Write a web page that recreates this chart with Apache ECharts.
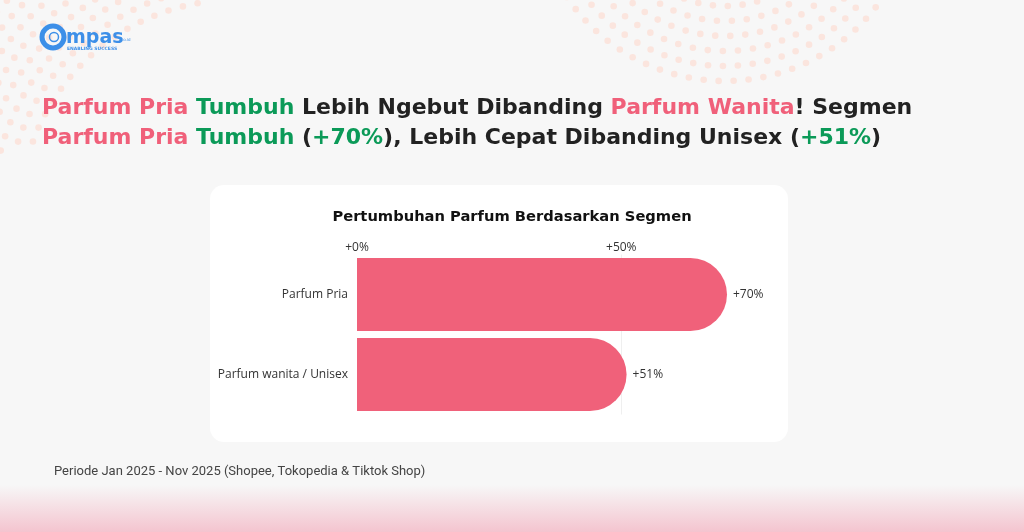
<!DOCTYPE html>
<html lang="id">
<head>
<meta charset="UTF-8">
<title>Pertumbuhan Parfum Berdasarkan Segmen</title>
<style>
  html, body { margin: 0; padding: 0; background: #f7f7f7; }
  #main { width: 1024px; height: 532px; }
</style>
</head>
<body>
<div id="main"></div>
<script src="https://cdn.jsdelivr.net/npm/echarts@6/dist/echarts.min.js"></script>
<script>
// data
var categories = ['Parfum Pria', 'Parfum wanita / Unisex'];
var growth = [70, 51];
var axisTicks = [0, 50];

var PINK = '#f0607a';
var GREEN = '#0b9a58';
var DARK = '#222222';
var BAR = '#f0617a';
var DOT = '#fbe5de';

// dekorasi titik-titik (busur)
function dotArcs(cx, cy, rFrom, rTo, step, box) {
    var out = [];
    for (var r = rFrom; r <= rTo; r += step) {
        var n = Math.round(2 * Math.PI * r / 15);
        for (var i = 0; i < n; i++) {
            var a = i * 2 * Math.PI / n + (r / step) * 0.2;
            var x = cx + r * Math.cos(a), y = cy + r * Math.sin(a);
            if (x < box[0] || x > box[2] || y < box[1] || y > box[3]) continue;
            out.push({ type: 'circle', silent: true, z: -20,
                shape: { cx: x, cy: y, r: 3.3 }, style: { fill: DOT } });
        }
    }
    return out;
}

var deco = [].concat(
    dotArcs(235, 215, 215, 320, 14, [-5, -5, 200, 155]),
    dotArcs(725, -110, 116, 205, 15, [505, -5, 900, 92])
);

var richStyle = function (c) {
    return { color: c, fontFamily: 'DejaVu Sans', fontWeight: 'bold', fontSize: 22, lineHeight: 30 };
};

var chart = echarts.init(document.getElementById('main'));
chart.setOption({
    backgroundColor: '#f7f7f7',
    animation: false,
    title: [{
        left: 42,
        top: 93,
        padding: 0,
        text: '{p|Parfum Pria} {g|Tumbuh} {d|Lebih Ngebut Dibanding} {p|Parfum Wanita}{d|! Segmen}\n' +
              '{p|Parfum Pria} {g|Tumbuh} {d|(}{g|+70%}{d|), Lebih Cepat Dibanding Unisex (}{g|+51%}{d|)}',
        textStyle: {
            fontFamily: 'DejaVu Sans', fontWeight: 'bold', fontSize: 22, lineHeight: 30, color: DARK,
            rich: { p: richStyle(PINK), g: richStyle(GREEN), d: richStyle(DARK) }
        }
    }, {
        left: 'center',
        top: 205,
        text: 'Pertumbuhan Parfum Berdasarkan Segmen',
        textStyle: { fontFamily: 'DejaVu Sans', fontWeight: 'bold', fontSize: 14.7, color: '#111' }
    }],
    graphic: deco.concat([
        // kartu putih
        { type: 'rect', silent: true, z: -10,
          shape: { x: 210, y: 185, width: 578, height: 257, r: 14 },
          style: { fill: '#ffffff' } },
        // gradasi bawah
        { type: 'rect', silent: true, z: -15,
          shape: { x: 0, y: 485, width: 1024, height: 47 },
          style: { fill: new echarts.graphic.LinearGradient(0, 0, 0, 1, [
              { offset: 0, color: 'rgba(244,196,207,0)' },
              { offset: 1, color: 'rgba(244,196,207,1)' }]) } },
        // logo
        { type: 'circle', silent: true, z: -5,
          shape: { cx: 53, cy: 37, r: 11 },
          style: { fill: 'none', stroke: '#3d8fe8', lineWidth: 5 } },
        { type: 'circle', silent: true, z: -5,
          shape: { cx: 54, cy: 37, r: 4.5 },
          style: { fill: 'none', stroke: '#3d8fe8', lineWidth: 1.5 } },
        { type: 'text', silent: true, z: -5, x: 66, y: 38,
          style: { text: 'mpas', fill: '#3d8fe8', font: 'bold 19px "DejaVu Sans"', verticalAlign: 'middle' } },
        { type: 'text', silent: true, z: -5, x: 121, y: 40,
          style: { text: 'co.id', fill: '#3d8fe8', font: '4px "DejaVu Sans"', verticalAlign: 'middle' } },
        { type: 'text', silent: true, z: -5, x: 67, y: 49,
          style: { text: 'ENABLING SUCCESS', fill: '#3d8fe8', font: 'bold 4.5px "DejaVu Sans"', verticalAlign: 'middle' } },
        // catatan periode
        { type: 'text', silent: true, x: 54, y: 472,
          style: { text: 'Periode Jan 2025 - Nov 2025 (Shopee, Tokopedia & Tiktok Shop)',
                   fill: '#444', font: '13px Roboto', verticalAlign: 'middle' } }
    ]),
    grid: { left: 357, top: 254.5, width: 370, height: 160 },
    xAxis: {
        type: 'value',
        position: 'top',
        min: 0,
        max: 70,
        interval: 50,
        axisLine: { show: false },
        axisTick: { show: false },
        splitLine: { show: true, lineStyle: { color: ['transparent', '#efefef', 'transparent'] } },
        axisLabel: {
            margin: 1,
            fontFamily: 'Open Sans', fontSize: 12, color: '#333',
            formatter: function (v) { return axisTicks.indexOf(v) >= 0 ? '+' + v + '%' : ''; }
        }
    },
    yAxis: {
        type: 'category',
        inverse: true,
        data: categories,
        axisLine: { show: false },
        axisTick: { show: false },
        axisLabel: { margin: 9, fontFamily: 'Open Sans', fontSize: 12, color: '#333' }
    },
    series: [{
        type: 'bar',
        data: growth,
        barWidth: 73,
        itemStyle: { color: BAR, borderRadius: [0, 37, 37, 0] },
        label: {
            show: true, position: 'right', distance: 6,
            fontFamily: 'Open Sans', fontSize: 12, color: '#333',
            formatter: function (p) { return '+' + p.value + '%'; }
        }
    }]
});
</script>
</body>
</html>
